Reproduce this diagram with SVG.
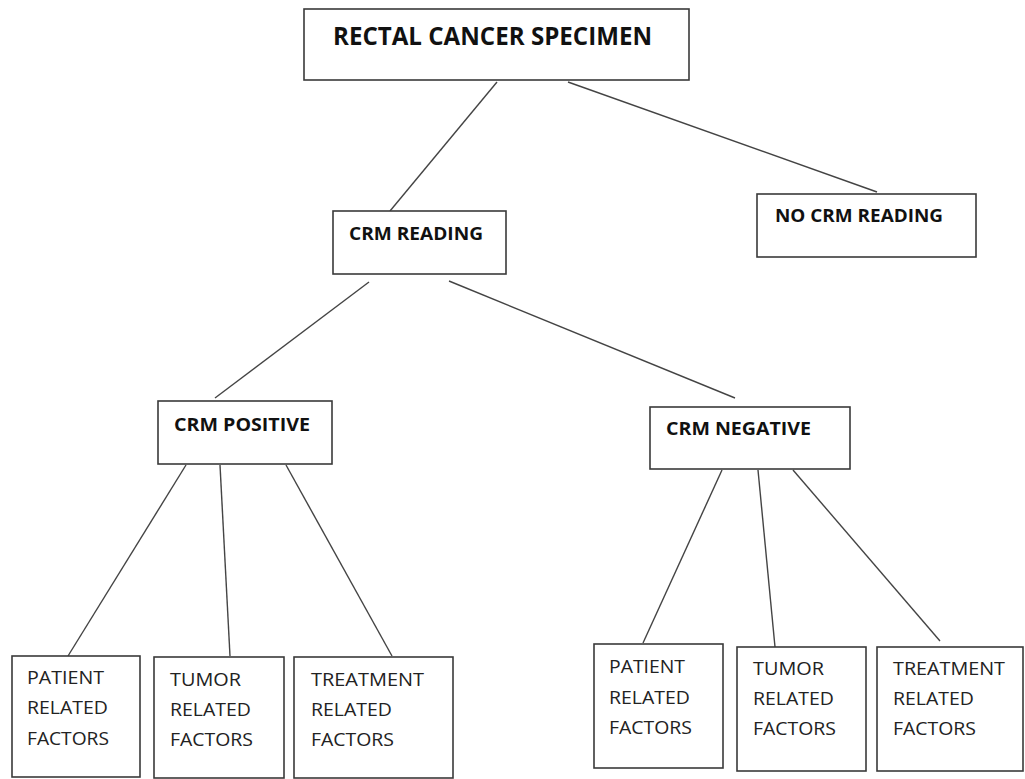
<svg xmlns="http://www.w3.org/2000/svg" width="1025" height="779" viewBox="0 0 1025 779">
<style>
.box{fill:#fff;stroke:#3a3a3a;stroke-width:1.6}
.b{font-family:"Open Sans","Liberation Sans",sans-serif;font-weight:bold;fill:#111}
.r{font-family:"Open Sans","Liberation Sans",sans-serif;font-size:17.5px;fill:#222}
.c line{stroke:#444;stroke-width:1.4}
</style>
<rect width="1025" height="779" fill="#fff"/>
<g class="c" id="connectors">
<line x1="497" y1="82" x2="390" y2="211"/>
<line x1="568" y1="82" x2="877" y2="192"/>
<line x1="369" y1="282" x2="215" y2="398"/>
<line x1="449" y1="281" x2="735" y2="398"/>
<line x1="186" y1="465" x2="68" y2="656"/>
<line x1="220" y1="465" x2="230" y2="656"/>
<line x1="286" y1="465" x2="392" y2="656"/>
<line x1="722" y1="470" x2="643" y2="643"/>
<line x1="758" y1="470" x2="775" y2="647"/>
<line x1="793" y1="470" x2="940" y2="641"/>
</g>
<g id="n-root"><rect class="box" x="304" y="9" width="385" height="71"/><text class="b" x="333" y="45" font-size="25" textLength="319" lengthAdjust="spacingAndGlyphs">RECTAL CANCER SPECIMEN</text></g>
<g id="n-crm-reading"><rect class="box" x="333" y="211" width="173" height="63"/><text class="b" x="349" y="240" font-size="18" textLength="134" lengthAdjust="spacingAndGlyphs">CRM READING</text></g>
<g id="n-no-crm"><rect class="box" x="757" y="194" width="219" height="63"/><text class="b" x="775" y="222" font-size="18" textLength="168" lengthAdjust="spacingAndGlyphs">NO CRM READING</text></g>
<g id="n-pos"><rect class="box" x="158" y="401" width="174" height="63"/><text class="b" x="174" y="431" font-size="18" textLength="136" lengthAdjust="spacingAndGlyphs">CRM POSITIVE</text></g>
<g id="n-neg"><rect class="box" x="650" y="407" width="200" height="62"/><text class="b" x="666" y="435" font-size="18" textLength="145" lengthAdjust="spacingAndGlyphs">CRM NEGATIVE</text></g>
<g id="n-pos-patient"><rect class="box" x="12" y="656" width="128" height="121"/><text class="r" x="27" y="684" textLength="77" lengthAdjust="spacingAndGlyphs">PATIENT</text><text class="r" x="27" y="714" textLength="81" lengthAdjust="spacingAndGlyphs">RELATED</text><text class="r" x="27" y="745" textLength="82" lengthAdjust="spacingAndGlyphs">FACTORS</text></g>
<g id="n-pos-tumor"><rect class="box" x="154" y="657" width="130" height="121"/><text class="r" x="170" y="686" textLength="71" lengthAdjust="spacingAndGlyphs">TUMOR</text><text class="r" x="170" y="716" textLength="81" lengthAdjust="spacingAndGlyphs">RELATED</text><text class="r" x="170" y="746" textLength="83" lengthAdjust="spacingAndGlyphs">FACTORS</text></g>
<g id="n-pos-treatment"><rect class="box" x="294" y="657" width="159" height="121"/><text class="r" x="311" y="686" textLength="113" lengthAdjust="spacingAndGlyphs">TREATMENT</text><text class="r" x="311" y="716" textLength="81" lengthAdjust="spacingAndGlyphs">RELATED</text><text class="r" x="311" y="746" textLength="83" lengthAdjust="spacingAndGlyphs">FACTORS</text></g>
<g id="n-neg-patient"><rect class="box" x="594" y="644" width="129" height="124"/><text class="r" x="609" y="673" textLength="76" lengthAdjust="spacingAndGlyphs">PATIENT</text><text class="r" x="609" y="704" textLength="81" lengthAdjust="spacingAndGlyphs">RELATED</text><text class="r" x="609" y="734" textLength="83" lengthAdjust="spacingAndGlyphs">FACTORS</text></g>
<g id="n-neg-tumor"><rect class="box" x="737" y="647" width="129" height="124"/><text class="r" x="753" y="675" textLength="71" lengthAdjust="spacingAndGlyphs">TUMOR</text><text class="r" x="753" y="705" textLength="81" lengthAdjust="spacingAndGlyphs">RELATED</text><text class="r" x="753" y="735" textLength="83" lengthAdjust="spacingAndGlyphs">FACTORS</text></g>
<g id="n-neg-treatment"><rect class="box" x="877" y="647" width="146" height="124"/><text class="r" x="893" y="675" textLength="112" lengthAdjust="spacingAndGlyphs">TREATMENT</text><text class="r" x="893" y="705" textLength="81" lengthAdjust="spacingAndGlyphs">RELATED</text><text class="r" x="893" y="735" textLength="83" lengthAdjust="spacingAndGlyphs">FACTORS</text></g>
</svg>
